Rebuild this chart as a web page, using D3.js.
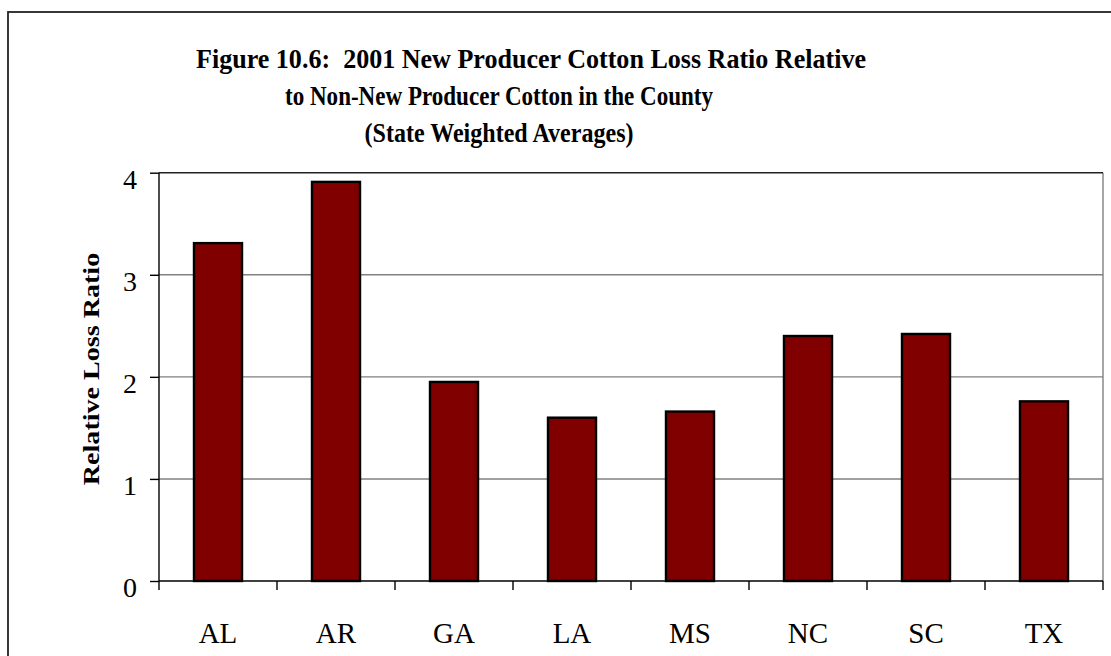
<!DOCTYPE html>
<html>
<head>
<meta charset="utf-8">
<script src="https://cdn.jsdelivr.net/npm/d3@7"></script>
<style>
  body { margin: 0; background: #fff; }
  svg { display: block; }
</style>
</head>
<body>
<div id="chart"></div>
<script>
// chart data
const states = ["AL", "AR", "GA", "LA", "MS", "NC", "SC", "TX"];
const lossRatio = [3.31, 3.91, 1.95, 1.60, 1.66, 2.40, 2.42, 1.76];
const yTicks = [0, 1, 2, 3, 4];
const titleLines = [
  "Figure 10.6:  2001 New Producer Cotton Loss Ratio Relative",
  "to Non-New Producer Cotton in the County",
  "(State Weighted Averages)"
];
const yTitle = "Relative Loss Ratio";

const width = 1111, height = 656;
const plot = { left: 159, right: 1103, top: 172.7, bottom: 581 };

const svg = d3.select("#chart").append("svg")
  .attr("width", width)
  .attr("height", height)
  .style("font-family", "'Liberation Serif', 'Times New Roman', serif");

// outer frame (runs off right / bottom edge)
svg.append("rect")
  .attr("x", 8).attr("y", 12)
  .attr("width", 1110).attr("height", 660)
  .attr("fill", "none")
  .attr("stroke", "#222")
  .attr("stroke-width", 1.8);

const x = d3.scaleBand()
  .domain(states)
  .range([plot.left, plot.right])
  .paddingInner(0.593)
  .paddingOuter(0.2965);

const y = d3.scaleLinear()
  .domain([0, 4])
  .range([plot.bottom, plot.top]);

// gridlines
svg.append("g")
  .selectAll("line")
  .data(yTicks.filter(d => d > 0 && d < 4))
  .join("line")
  .attr("x1", plot.left).attr("x2", plot.right)
  .attr("y1", d => y(d)).attr("y2", d => y(d))
  .attr("stroke", "#808080")
  .attr("stroke-width", 1.4);

// plot area right edge (gray) and top edge
svg.append("line")
  .attr("x1", plot.right).attr("x2", plot.right)
  .attr("y1", y(4)).attr("y2", y(0))
  .attr("stroke", "#808080").attr("stroke-width", 1.4);
svg.append("line")
  .attr("x1", plot.left).attr("x2", plot.right)
  .attr("y1", y(4)).attr("y2", y(4))
  .attr("stroke", "#222").attr("stroke-width", 1.4);

// bars
svg.append("g")
  .selectAll("rect")
  .data(states)
  .join("rect")
  .attr("x", d => x(d))
  .attr("y", (d, i) => y(lossRatio[i]))
  .attr("width", x.bandwidth())
  .attr("height", (d, i) => y(0) - y(lossRatio[i]))
  .attr("fill", "#800000")
  .attr("stroke", "#000")
  .attr("stroke-width", 2.4);

// y axis
const yAxis = d3.axisLeft(y)
  .tickValues(yTicks)
  .tickSize(9)
  .tickPadding(13)
  .tickFormat(d3.format("d"));

const gy = svg.append("g")
  .attr("transform", `translate(${plot.left},0)`)
  .call(yAxis);
gy.select(".domain").attr("stroke", "#000").attr("stroke-width", 1.4)
  .attr("d", `M0,${y(4)}V${y(0) + 9}`);
gy.selectAll(".tick line").attr("stroke", "#000").attr("stroke-width", 1.4);
gy.selectAll(".tick text")
  .attr("font-size", 28)
  .attr("font-family", "'Liberation Serif', 'Times New Roman', serif")
  .attr("fill", "#000")
  .attr("dy", "0.55em");

// x axis line and category boundary ticks
svg.append("line")
  .attr("x1", plot.left).attr("x2", plot.right)
  .attr("y1", y(0)).attr("y2", y(0))
  .attr("stroke", "#000").attr("stroke-width", 1.4);

svg.append("g")
  .selectAll("line")
  .data(states)
  .join("line")
  .attr("x1", d => x(d) + x.bandwidth() / 2 + x.step() / 2)
  .attr("x2", d => x(d) + x.bandwidth() / 2 + x.step() / 2)
  .attr("y1", y(0)).attr("y2", y(0) + 9)
  .attr("stroke", "#000").attr("stroke-width", 1.4);

svg.append("g")
  .selectAll("text")
  .data(states)
  .join("text")
  .attr("x", d => x(d) + x.bandwidth() / 2)
  .attr("y", 642.5)
  .attr("text-anchor", "middle")
  .attr("font-size", 29)
  .text(d => d);

// y axis title
svg.append("text")
  .attr("transform", "translate(99,369) rotate(-90) scale(1.17,1)")
  .attr("text-anchor", "middle")
  .attr("font-size", 24)
  .attr("font-weight", "bold")
  .text(yTitle);

// title
const titleX = [531, 499, 499];
const titleY = [68, 105, 142];
const titleW = [670, 428, 269];
svg.append("g")
  .selectAll("text")
  .data(titleLines)
  .join("text")
  .attr("transform", (d, i) => `translate(${titleX[i]},${titleY[i]}) scale(1,1.17)`)
  .attr("text-anchor", "middle")
  .attr("font-size", 24)
  .attr("font-weight", "bold")
  .attr("xml:space", "preserve")
  .style("white-space", "pre")
  .attr("textLength", (d, i) => titleW[i])
  .attr("lengthAdjust", "spacingAndGlyphs")
  .text(d => d);
</script>
</body>
</html>
